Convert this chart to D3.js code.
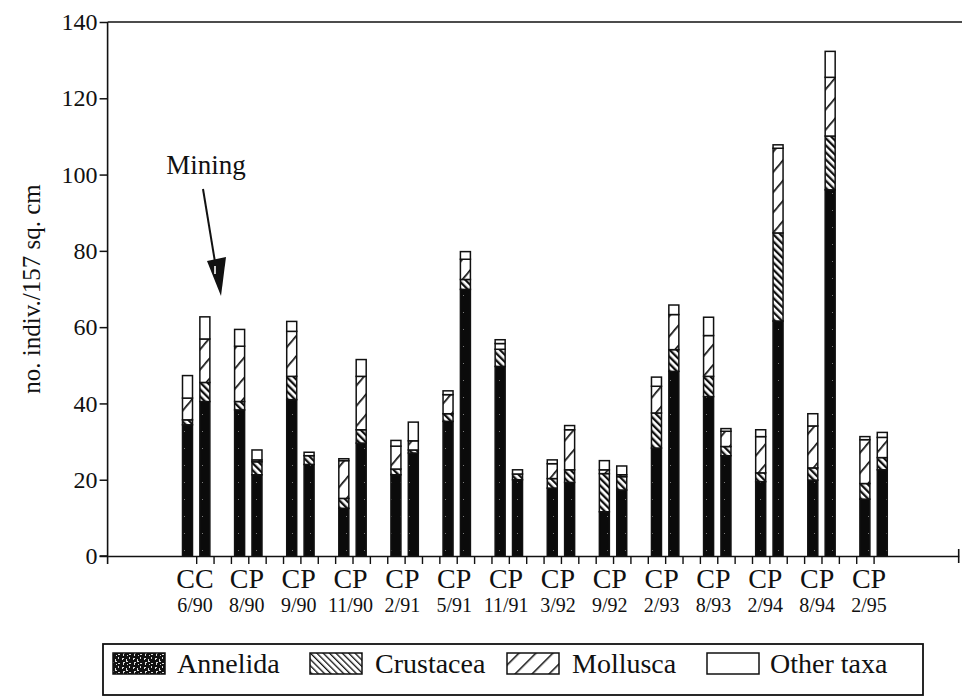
<!DOCTYPE html>
<html>
<head>
<meta charset="utf-8">
<script src="https://cdn.jsdelivr.net/npm/d3@7"></script>
<style>
  html, body { margin: 0; padding: 0; background: #fff; }
  svg { display: block; }
  text { font-family: "Liberation Serif", "Times New Roman", serif; fill: #111; }
</style>
</head>
<body>
<svg id="chart" width="964" height="698"></svg>
<script>
// Sampling dates (one pair of cores per date) and the site label under each pair
const dates = ["6/90", "8/90", "9/90", "11/90", "2/91", "5/91", "11/91",
               "3/92", "9/92", "2/93", "8/93", "2/94", "8/94", "2/95"];
const sites = ["CC", "CP", "CP", "CP", "CP", "CP", "CP",
               "CP", "CP", "CP", "CP", "CP", "CP", "CP"];

// Counts per core (two cores per date, in date order), no. indiv./157 sq. cm
const annelida  = [34.4, 40.5, 38.3, 21.3, 41.0, 24.0, 12.5, 29.6, 21.3, 27.0, 35.3, 69.9, 49.7, 20.0,
                   17.8, 19.3, 11.6, 17.3, 28.3, 48.4, 41.8, 26.3, 19.5, 61.6, 19.9, 96.0, 14.9, 22.6];
const crustacea = [1.3, 5.0, 2.2, 3.4, 6.1, 2.3, 2.6, 3.5, 1.5, 0.8, 2.0, 2.6, 4.5, 1.5,
                   2.5, 3.3, 10.0, 3.5, 9.2, 5.7, 5.3, 2.4, 2.3, 23.1, 3.2, 14.1, 4.1, 3.2];
const mollusca  = [5.7, 11.4, 14.5, 0.5, 11.8, 0.0, 9.9, 14.0, 6.0, 2.4, 5.0, 5.3, 1.5, 0.0,
                   3.9, 10.5, 1.0, 0.5, 7.0, 9.2, 10.7, 4.0, 9.5, 22.2, 11.0, 15.4, 11.5, 5.3];
const other     = [5.9, 5.8, 4.4, 2.6, 2.6, 0.9, 0.5, 4.4, 1.5, 4.9, 1.0, 2.0, 1.0, 1.1,
                   1.0, 1.1, 2.4, 2.3, 2.4, 2.5, 4.8, 0.7, 1.8, 0.9, 3.2, 6.8, 0.8, 1.3];

const yTicks = [0, 20, 40, 60, 80, 100, 120, 140];

const taxa = [
  { key: "annelida",  label: "Annelida",   values: annelida,  fill: "url(#pat-annelida)",  keyFill: "url(#pat-annelida-key)" },
  { key: "crustacea", label: "Crustacea",  values: crustacea, fill: "url(#pat-crustacea)", keyFill: "url(#pat-crustacea-key)" },
  { key: "mollusca",  label: "Mollusca",   values: mollusca,  fill: "url(#pat-mollusca)",  keyFill: "url(#pat-mollusca-key)" },
  { key: "other",     label: "Other taxa", values: other,     fill: "#fff",                keyFill: "#fff" }
];

const svg = d3.select("#chart");
const defs = svg.append("defs");

// Fill patterns
const pA = defs.append("pattern").attr("id", "pat-annelida")
  .attr("patternUnits", "userSpaceOnUse").attr("width", 9).attr("height", 17);
pA.append("rect").attr("width", 9).attr("height", 17).attr("fill", "#0b0b0b");
pA.append("rect").attr("x", 4).attr("y", 6).attr("width", 1).attr("height", 1).attr("fill", "#fff").attr("opacity", 0.45);

const pAL = defs.append("pattern").attr("id", "pat-annelida-key")
  .attr("patternUnits", "userSpaceOnUse").attr("width", 11).attr("height", 9);
pAL.append("rect").attr("width", 11).attr("height", 9).attr("fill", "#111");
pAL.append("path")
  .attr("d", "M1,1h2v1h-1v1h-1zM5,2h1v2h1v1h-2zM8,0h1v2h-1zM2,5h2v1h-1v2h-1zM8,6h2v1h-2zM6,7h1v1h-1z")
  .attr("fill", "#ddd");

// Crustacea: dense "\" stripes
const pC = defs.append("pattern").attr("id", "pat-crustacea")
  .attr("patternUnits", "userSpaceOnUse").attr("width", 5).attr("height", 5)
  .attr("patternTransform", "rotate(-45)");
pC.append("rect").attr("width", 5).attr("height", 5).attr("fill", "#fff");
pC.append("rect").attr("width", 2.3).attr("height", 5).attr("fill", "#111");

const pCL = defs.append("pattern").attr("id", "pat-crustacea-key")
  .attr("patternUnits", "userSpaceOnUse").attr("width", 4.5).attr("height", 4.5)
  .attr("patternTransform", "rotate(-45)");
pCL.append("rect").attr("width", 4.5).attr("height", 4.5).attr("fill", "#fff");
pCL.append("rect").attr("width", 1.3).attr("height", 4.5).attr("fill", "#111");

// Mollusca: sparse "/" stripes
const pM = defs.append("pattern").attr("id", "pat-mollusca")
  .attr("patternUnits", "userSpaceOnUse").attr("width", 13).attr("height", 13)
  .attr("patternTransform", "rotate(40)");
pM.append("rect").attr("width", 13).attr("height", 13).attr("fill", "#fff");
pM.append("rect").attr("width", 1.7).attr("height", 13).attr("fill", "#111");

const pML = defs.append("pattern").attr("id", "pat-mollusca-key")
  .attr("patternUnits", "userSpaceOnUse").attr("width", 12).attr("height", 12)
  .attr("patternTransform", "rotate(45)");
pML.append("rect").attr("width", 12).attr("height", 12).attr("fill", "#fff");
pML.append("rect").attr("width", 1.5).attr("height", 12).attr("fill", "#111");

// Scales: each date occupies three slots (two cores plus a gap)
const x = d3.scaleLinear().domain([-4.6, 44.4]).range([107.6, 958.7]);
const y = d3.scaleLinear().domain([0, 140]).range([556, 22]);
const slotOf = i => 3 * Math.floor(i / 2) + (i % 2);
const labelX = d3.scaleLinear().domain([0, dates.length - 1]).range([195, 869]);
const barW = 10;

// Stack the four taxa per core
const rows = annelida.map((_, i) => {
  const r = { i };
  taxa.forEach(t => r[t.key] = t.values[i]);
  return r;
});
const series = d3.stack().keys(taxa.map(t => t.key))(rows);

// Frame top line
svg.append("line").attr("x1", x(-4.6)).attr("x2", 962).attr("y1", y(140)).attr("y2", y(140))
  .attr("stroke", "#111").attr("stroke-width", 1.5);

// Bars
const gBars = svg.append("g");
series.forEach((s, k) => {
  gBars.selectAll(null).data(s).join("rect")
    .attr("x", d => x(slotOf(d.data.i)) - barW / 2)
    .attr("width", barW)
    .attr("y", d => y(d[1]))
    .attr("height", d => Math.max(0, y(d[0]) - y(d[1])))
    .attr("fill", taxa[k].fill)
    .attr("stroke", "#111")
    .attr("stroke-width", 1.5);
});

// Y axis
const yAxis = d3.axisLeft(y).tickValues(yTicks).tickSize(8).tickSizeOuter(0).tickPadding(2);
const gy = svg.append("g").attr("transform", `translate(${x(-4.6)},0)`).call(yAxis);
gy.select(".domain").remove();
gy.selectAll(".tick line").attr("stroke", "#111").attr("stroke-width", 1.5);
gy.selectAll(".tick text").attr("font-size", 24).attr("fill", "#111")
  .style("font-family", "'Liberation Serif', serif");
svg.append("line").attr("x1", x(-4.6)).attr("x2", x(-4.6)).attr("y1", y(140)).attr("y2", y(0) + 8)
  .attr("stroke", "#111").attr("stroke-width", 1.6);

// X axis with tick marks between slots
const xAxis = d3.axisBottom(x).tickValues(d3.range(0.5, 40, 1)).tickFormat("").tickSize(8).tickSizeOuter(0);
const gx = svg.append("g").attr("transform", `translate(0,${y(0)})`).call(xAxis);
gx.select(".domain").attr("stroke", "#111").attr("stroke-width", 1.6);
gx.selectAll(".tick line").attr("stroke", "#111").attr("stroke-width", 1.4);
svg.append("line").attr("x1", x(-4.6) - 8).attr("x2", x(-4.6)).attr("y1", y(0)).attr("y2", y(0))
  .attr("stroke", "#111").attr("stroke-width", 1.6);
svg.append("line").attr("x1", x(44.4)).attr("x2", x(44.4)).attr("y1", y(0) - 7).attr("y2", y(0) + 7)
  .attr("stroke", "#111").attr("stroke-width", 1.6);

// Site and date labels under each pair
svg.append("g").selectAll("text").data(sites).join("text")
  .attr("x", (d, g) => labelX(g)).attr("y", 588)
  .attr("text-anchor", "middle").attr("font-size", 28)
  .text(d => d);
svg.append("g").selectAll("text").data(dates).join("text")
  .attr("x", (d, g) => labelX(g)).attr("y", 612)
  .attr("text-anchor", "middle").attr("font-size", 20)
  .text(d => d);

// Y axis title
svg.append("text")
  .attr("transform", `translate(40,${(y(0) + y(140)) / 2}) rotate(-90)`)
  .attr("text-anchor", "middle").attr("font-size", 25)
  .text("no. indiv./157 sq. cm");

// Mining annotation
svg.append("text").attr("x", 206).attr("y", 174).attr("text-anchor", "middle")
  .attr("font-size", 27).text("Mining");
svg.append("line").attr("x1", 203).attr("y1", 189).attr("x2", 215).attr("y2", 262)
  .attr("stroke", "#111").attr("stroke-width", 2);
svg.append("path").attr("d", "M207,261 L226,257 L221,296 Z").attr("fill", "#111");
svg.append("path").attr("d", "M214,266 l2,0 l0,8 l-2,0 Z").attr("fill", "#fff").attr("opacity", 0.8);

// Legend
const lg = svg.append("g");
lg.append("rect").attr("x", 103).attr("y", 644).attr("width", 820).attr("height", 51)
  .attr("fill", "none").attr("stroke", "#111").attr("stroke-width", 1.8);
const keyPos = [
  { swatch: 113, text: 177 },
  { swatch: 310, text: 375 },
  { swatch: 507, text: 572 },
  { swatch: 707, text: 770 }
];
taxa.forEach((t, k) => {
  lg.append("rect").attr("x", keyPos[k].swatch).attr("y", 653).attr("width", 52).attr("height", 21)
    .attr("fill", t.keyFill).attr("stroke", "#111").attr("stroke-width", 1.5);
  lg.append("text").attr("x", keyPos[k].text).attr("y", 673).attr("font-size", 28).text(t.label);
});
</script>
</body>
</html>
